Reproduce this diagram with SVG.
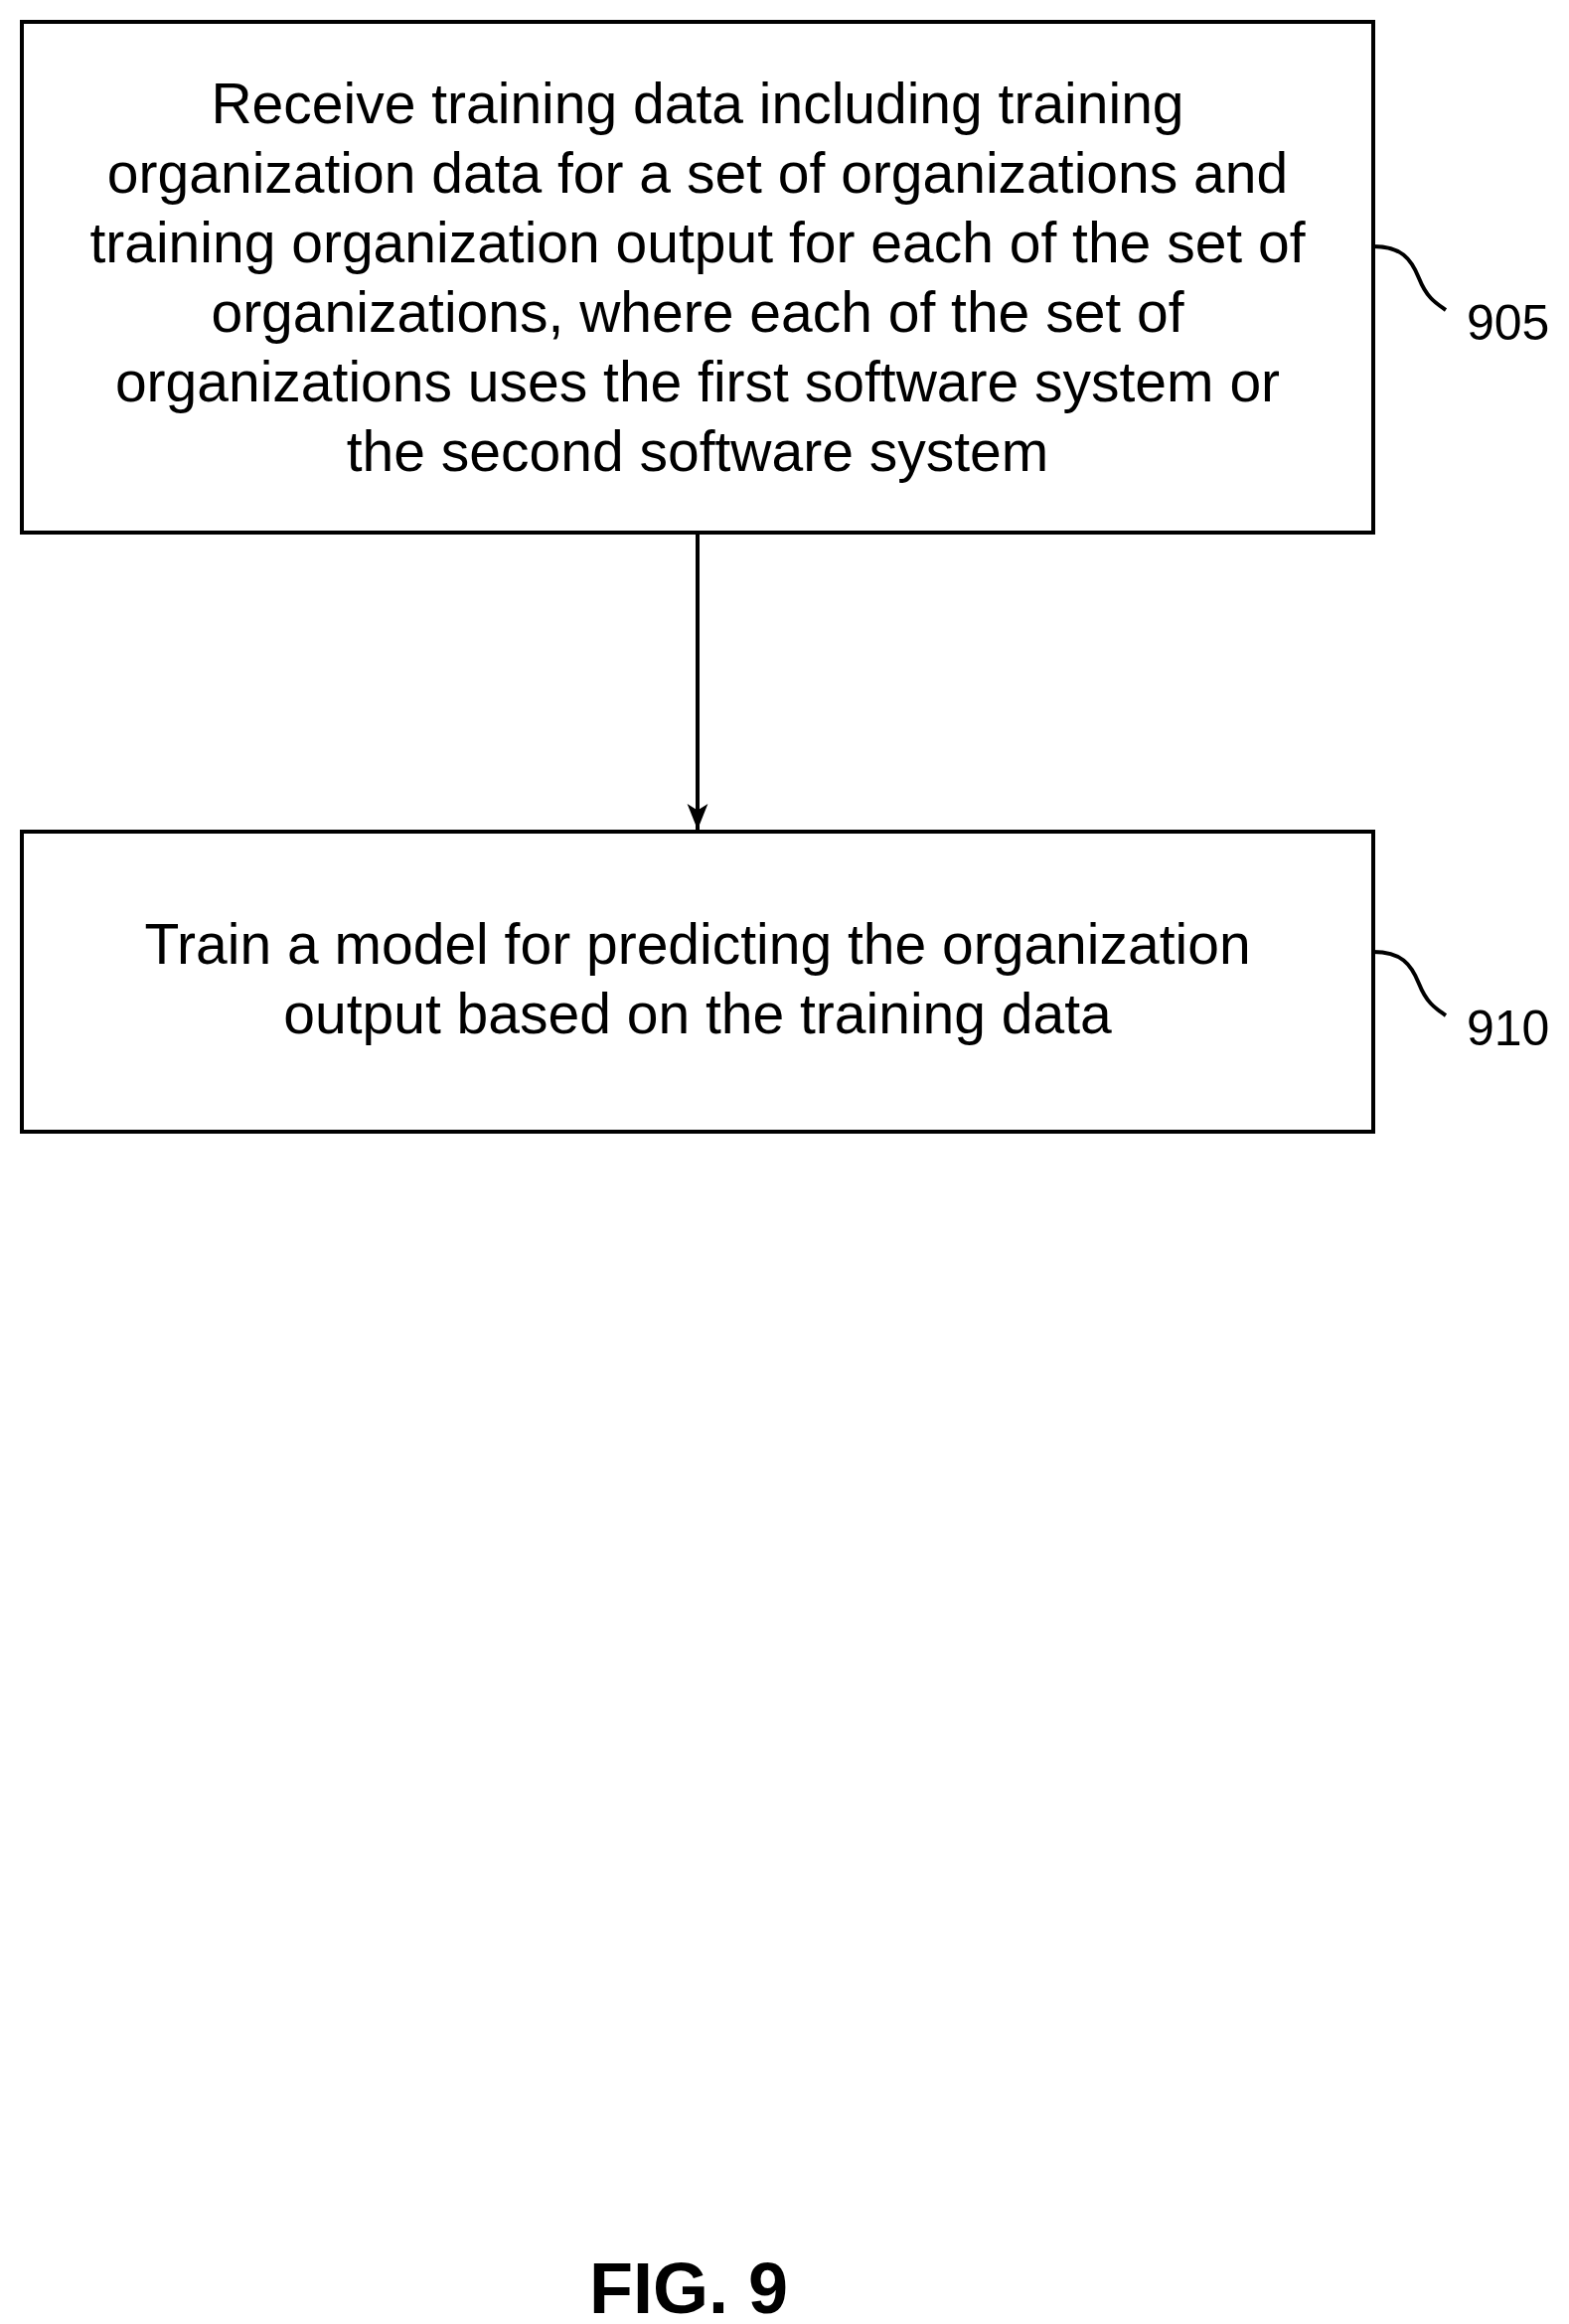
<svg xmlns="http://www.w3.org/2000/svg" width="1579" height="2339" viewBox="0 0 1579 2339">
<style>
.box{fill:#fff;stroke:#000;stroke-width:4}
.t{font-family:"Liberation Sans",Arial,sans-serif;font-size:57px;text-anchor:middle;fill:#000}
.ref{font-family:"Liberation Sans",Arial,sans-serif;font-size:50px;fill:#000}
.lead{fill:none;stroke:#000;stroke-width:4}
</style>
<defs>
<marker id="a" viewBox="0 0 20 20" markerWidth="26" markerHeight="26" refX="20" refY="10" orient="auto" markerUnits="userSpaceOnUse"><path d="M0,2 L20,10 L0,18 L5,10 z" fill="#000"/></marker></defs>
<rect width="1579" height="2339" fill="#fff"/>
<g id="n905">
<rect class="box" x="22" y="22" width="1360" height="514"/>
<text class="t" x="702" y="124">Receive training data including training</text>
<text class="t" x="702" y="194">organization data for a set of organizations and</text>
<text class="t" x="702" y="264">training organization output for each of the set of</text>
<text class="t" x="702" y="334">organizations, where each of the set of</text>
<text class="t" x="702" y="404">organizations uses the first software system or</text>
<text class="t" x="702" y="474">the second software system</text>
<path class="lead" d="M1382,248 C1410,248 1420,260 1428,280 C1436,300 1445,305 1455,312"/>
<text class="ref" x="1476" y="342">905</text>
</g>
<g id="n910">
<rect class="box" x="22" y="837" width="1360" height="302"/>
<text class="t" x="702" y="970">Train a model for predicting the organization</text>
<text class="t" x="702" y="1040">output based on the training data</text>
<path class="lead" d="M1382,958 C1410,958 1420,970 1428,990 C1436,1010 1445,1015 1455,1022"/>
<text class="ref" x="1476" y="1052">910</text>
</g>
<g id="connectors">
<line x1="702" y1="536" x2="702" y2="835" stroke="#000" stroke-width="4" marker-end="url(#a)"/>
</g>
<text x="693" y="2328" font-family="Liberation Sans,Arial,sans-serif" font-weight="bold" font-size="72" text-anchor="middle">FIG. 9</text>
</svg>
